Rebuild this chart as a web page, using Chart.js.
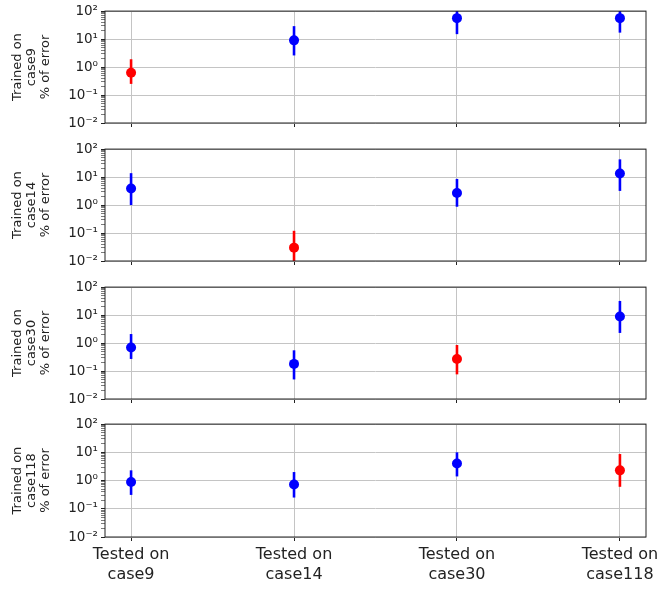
<!DOCTYPE html>
<html>
<head>
<meta charset="utf-8">
<script src="https://cdn.jsdelivr.net/npm/chart.js@4.4.1/dist/chart.umd.min.js"></script>
<style>
  body { margin: 0; background: #fff; }
  #wrap { position: relative; width: 662px; height: 590px; }
  canvas { position: absolute; left: 0; }
</style>
</head>
<body>
<div id="wrap"></div>
<script>
// categories
const testedOn = ["case9", "case14", "case30", "case118"];
const trainedOn = ["case9", "case14", "case30", "case118"];

// % of error, one row per trained case (mean, low, high)
const errMid = [
  [0.63, 9.0, 56, 56],
  [3.9, 0.030, 2.7, 13.5],
  [0.69, 0.18, 0.27, 8.9],
  [0.89, 0.72, 4.0, 2.3]
];
const errLow = [
  [0.25, 2.6, 15, 17],
  [1.0, 0.007, 0.87, 3.2],
  [0.27, 0.05, 0.076, 2.3],
  [0.31, 0.25, 1.4, 0.6]
];
const errHigh = [
  [1.9, 29, 200, 180],
  [13.8, 0.12, 8.6, 43],
  [2.1, 0.55, 0.85, 32],
  [2.3, 2.0, 10, 8.7]
];

const supMap = { "-": "⁻", "0": "⁰", "1": "¹", "2": "²" };

const FONT = "DejaVu Sans";
const GRID = "#c4c4c4";

// ramme rundt plottet (matplotlib spines)
const framePlugin = {
  id: "frame",
  afterDraw(chart) {
    const a = chart.chartArea;
    const ctx = chart.ctx;
    ctx.save();
    ctx.strokeStyle = "#222";
    ctx.lineWidth = 1;
    ctx.strokeRect(a.left, a.top, a.right - a.left, a.bottom - a.top);
    ctx.restore();
  }
};

function isMajor(v) {
  const e = Math.round(Math.log10(v));
  return Math.abs(v - Math.pow(10, e)) < 1e-9 * Math.pow(10, e) + 1e-12;
}

function supLabel(e) {
  return "10" + String(e).split("").map(c => supMap[c]).join("");
}

const wrap = document.getElementById("wrap");
const tops = [0, 138, 276, 413];

trainedOn.forEach((train, row) => {
  const last = row === trainedOn.length - 1;
  const h = last ? 177 : 138;
  const xh = last ? 53 : 15;

  const canvas = document.createElement("canvas");
  canvas.width = 662;
  canvas.height = h;
  canvas.style.top = tops[row] + "px";
  canvas.style.width = "662px";
  canvas.style.height = h + "px";
  wrap.appendChild(canvas);

  const colors = testedOn.map((_, col) => col === row ? "#ff0000" : "#0000ff");

  const datasets = [{
    type: "scatter",
    data: testedOn.map((_, col) => ({ x: col, y: errMid[row][col] })),
    pointRadius: 5,
    pointBackgroundColor: colors,
    pointBorderColor: colors,
    pointBorderWidth: 0
  }];

  testedOn.forEach((_, col) => {
    datasets.push({
      type: "line",
      data: [{ x: col, y: errLow[row][col] }, { x: col, y: errHigh[row][col] }],
      borderColor: colors[col],
      borderWidth: 2.6,
      pointRadius: 0
    });
  });

  new Chart(canvas, {
    type: "scatter",
    data: { datasets: datasets },
    options: {
      responsive: false,
      animation: false,
      devicePixelRatio: 1,
      layout: { padding: { top: 9, right: 16, left: 0, bottom: 0 } },
      plugins: { legend: { display: false }, tooltip: { enabled: false } },
      scales: {
        x: {
          type: "linear",
          min: -0.16,
          max: 3.16,
          afterBuildTicks: (s) => { s.ticks = testedOn.map((_, i) => ({ value: i })); },
          afterFit: (s) => { s.height = xh; },
          ticks: {
            display: last,
            autoSkip: false,
            maxRotation: 0,
            padding: 3,
            color: "#222",
            font: { family: FONT, size: 16, lineHeight: 1.3 },
            callback: (v) => ["Tested on", testedOn[v]]
          },
          grid: { color: GRID, lineWidth: 1, tickColor: "#222", tickLength: 4 },
          border: { display: false }
        },
        y: {
          type: "logarithmic",
          min: 0.01,
          max: 100,
          afterBuildTicks: (s) => {
            const t = [];
            for (let e = -2; e <= 1; e++) {
              for (let m = 1; m <= 9; m++) t.push({ value: m * Math.pow(10, e) });
            }
            t.push({ value: 100 });
            s.ticks = t;
          },
          afterFit: (s) => { s.width = 105; },
          ticks: {
            autoSkip: false,
            padding: 3,
            color: "#222",
            font: { family: FONT, size: 13.5 },
            callback: (v) => isMajor(v) ? supLabel(Math.round(Math.log10(v))) : ""
          },
          grid: {
            color: (c) => (c.tick && isMajor(c.tick.value)) ? GRID : "rgba(0,0,0,0)",
            tickColor: "#222",
            tickWidth: (c) => (c.tick && isMajor(c.tick.value)) ? 1 : 0.6,
            tickLength: 4
          },
          border: { display: false },
          title: {
            display: true,
            text: ["Trained on", train, "% of error"],
            color: "#222",
            padding: { top: 10, bottom: 0 },
            font: { family: FONT, size: 13, lineHeight: 1.1 }
          }
        }
      }
    },
    plugins: [framePlugin]
  });
});
</script>
</body>
</html>
